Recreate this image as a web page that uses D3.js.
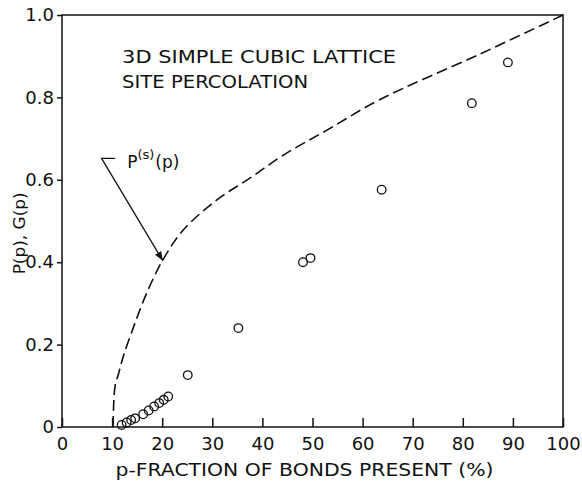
<!DOCTYPE html>
<html>
<head>
<meta charset="utf-8">
<script src="https://cdn.jsdelivr.net/npm/d3@7"></script>
<style>
  body { margin: 0; background: #fff; }
  svg text { font-family: "DejaVu Sans", sans-serif; fill: #111; }
</style>
</head>
<body>
<div id="chart"></div>
<script>
// Percolation probability P^(s)(p)
const curveP = [10.2, 10.3, 10.6, 11.3, 12.2, 14.2, 16.9, 20.2, 24.2, 30.9, 37.5, 44.2, 52.8, 63.5, 83.4, 100];
const curveV = [0, 0.05, 0.10, 0.13, 0.17, 0.24, 0.325, 0.407, 0.478, 0.551, 0.604, 0.66, 0.72, 0.795, 0.905, 1.0];

// Measured G(p), open circles
const pointP = [11.9, 12.9, 13.8, 14.6, 16.2, 17.3, 18.4, 19.4, 20.3, 21.2, 25.1, 35.2, 48.1, 49.6, 63.8, 81.8, 89.0];
const pointV = [0.005, 0.011, 0.017, 0.021, 0.031, 0.040, 0.050, 0.058, 0.066, 0.074, 0.126, 0.24, 0.40, 0.41, 0.576, 0.786, 0.885];

const xTicks = [0, 10, 20, 30, 40, 50, 60, 70, 80, 90, 100];
const yTicks = [0, 0.2, 0.4, 0.6, 0.8, 1.0];
const yTickLabels = ["0", "0.2", "0.4", "0.6", "0.8", "1.0"];

const W = 582, H = 487;
const margin = { top: 15, right: 19, bottom: 60, left: 62 };

const svg = d3.select("#chart").append("svg")
  .attr("width", W)
  .attr("height", H);

const x = d3.scaleLinear().domain([0, 100]).range([margin.left, W - margin.right]);
const y = d3.scaleLinear().domain([0, 1]).range([H - margin.bottom, margin.top]);

// plot frame
svg.append("rect")
  .attr("x", x(0)).attr("y", y(1))
  .attr("width", x(100) - x(0)).attr("height", y(0) - y(1))
  .attr("fill", "none").attr("stroke", "#111").attr("stroke-width", 1.5);

// x axis, ticks point inward
const xAxis = svg.append("g")
  .attr("transform", `translate(0,${y(0)})`)
  .call(d3.axisBottom(x).tickValues(xTicks).tickSizeInner(-9).tickSizeOuter(0).tickPadding(10).tickFormat(d3.format("d")));
xAxis.select(".domain").remove();
xAxis.selectAll("line").attr("stroke", "#111").attr("stroke-width", 1.5);
xAxis.selectAll("text").attr("font-size", 18).attr("font-family", "DejaVu Sans").attr("fill", "#111");

// y axis, short ticks outward
const yAxis = svg.append("g")
  .attr("transform", `translate(${x(0)},0)`)
  .call(d3.axisLeft(y).tickValues(yTicks).tickSizeInner(5).tickSizeOuter(0).tickPadding(3)
    .tickFormat((d, i) => yTickLabels[i]));
yAxis.select(".domain").remove();
yAxis.selectAll("line").attr("stroke", "#111").attr("stroke-width", 1.5);
yAxis.selectAll("text").attr("font-size", 18).attr("font-family", "DejaVu Sans").attr("fill", "#111");

// axis titles
svg.append("text")
  .attr("x", (x(0) + x(100)) / 2 - 8)
  .attr("y", H - 11)
  .attr("text-anchor", "middle")
  .attr("font-size", 17)
  .attr("textLength", 378)
  .attr("lengthAdjust", "spacingAndGlyphs")
  .text("p-FRACTION OF BONDS PRESENT (%)");

svg.append("text")
  .attr("transform", `translate(25,${y(0.47)}) rotate(-90)`)
  .attr("text-anchor", "middle")
  .attr("font-size", 15)
  .attr("textLength", 82)
  .attr("lengthAdjust", "spacingAndGlyphs")
  .text("P(p), G(p)");

// dashed P^(s)(p) curve
const line = d3.line()
  .x(d => x(d[0]))
  .y(d => y(d[1]))
  .curve(d3.curveCatmullRom.alpha(0.5));

svg.append("path")
  .datum(curveP.map((p, i) => [p, curveV[i]]))
  .attr("d", line)
  .attr("fill", "none")
  .attr("stroke", "#111")
  .attr("stroke-width", 1.6)
  .attr("stroke-dasharray", "11,5");

// data circles
svg.append("g").selectAll("circle")
  .data(pointP.map((p, i) => [p, pointV[i]]))
  .join("circle")
  .attr("cx", d => x(d[0]))
  .attr("cy", d => y(d[1]))
  .attr("r", 4.3)
  .attr("fill", "none")
  .attr("stroke", "#111")
  .attr("stroke-width", 1.3);

// lattice label
svg.append("text")
  .attr("x", x(12)).attr("y", y(0.883))
  .attr("font-size", 17)
  .attr("textLength", 274)
  .attr("lengthAdjust", "spacingAndGlyphs")
  .text("3D SIMPLE CUBIC LATTICE");
svg.append("text")
  .attr("x", x(12)).attr("y", y(0.823))
  .attr("font-size", 17)
  .attr("textLength", 186)
  .attr("lengthAdjust", "spacingAndGlyphs")
  .text("SITE PERCOLATION");

// curve label and arrow
svg.append("defs").append("marker")
  .attr("id", "arrow")
  .attr("viewBox", "0 0 10 10")
  .attr("refX", 10).attr("refY", 5)
  .attr("markerWidth", 9).attr("markerHeight", 9)
  .attr("markerUnits", "userSpaceOnUse")
  .attr("orient", "auto")
  .append("path")
  .attr("d", "M0,1 L10,5 L0,9 Z")
  .attr("fill", "#111");

const leader = [[10.6, 0.652], [7.9, 0.652], [20.1, 0.404]];
svg.append("path")
  .attr("d", d3.line().x(d => x(d[0])).y(d => y(d[1]))(leader))
  .attr("fill", "none")
  .attr("stroke", "#111")
  .attr("stroke-width", 1.3)
  .attr("marker-end", "url(#arrow)");

const lbl = svg.append("text")
  .attr("x", x(13)).attr("y", y(0.629))
  .attr("font-size", 17);
lbl.append("tspan").text("P");
lbl.append("tspan").attr("dy", -9).attr("font-size", 13).text("(s)");
lbl.append("tspan").attr("dy", 9).attr("dx", 1).text("(p)");
</script>
</body>
</html>
